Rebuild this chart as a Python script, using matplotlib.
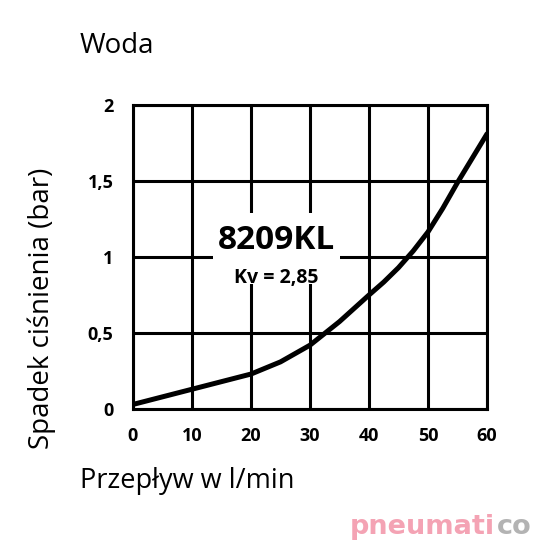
import matplotlib
matplotlib.use("Agg")
import matplotlib.pyplot as plt
from matplotlib.patches import Rectangle

flow = [0, 5, 10, 15, 20, 25, 30, 35, 40, 42.5, 45, 47.5, 50, 52.5, 55, 60]
dp = [0.03, 0.08, 0.13, 0.18, 0.23, 0.31, 0.42, 0.575, 0.75, 0.835, 0.93, 1.04, 1.165, 1.32, 1.49, 1.81]
xticks = [0, 10, 20, 30, 40, 50, 60]
yticks = [0, 0.5, 1, 1.5, 2]
ylabels = ["0", "0,5", "1", "1,5", "2"]

plt.rcParams['font.family'] = ['Open Sans', 'DejaVu Sans']

fig = plt.figure(figsize=(5.4, 5.4), dpi=100)
ax = fig.add_axes([133/540, 1-409/540, 354/540, 304/540])
ax.set_xlim(0, 60)
ax.set_ylim(0, 2)
ax.set_xticks(xticks)
ax.set_yticks(yticks)
ax.set_xticklabels([str(t) for t in xticks], fontweight='bold', fontsize=13)
ax.set_yticklabels(ylabels, fontweight='bold', fontsize=13)
ax.tick_params(axis='x', length=0, pad=13)
ax.tick_params(axis='y', length=0, pad=14)
ax.grid(True, color='black', lw=2.2)
for s in ax.spines.values():
    s.set_linewidth(2.2)
ax.set_axisbelow(True)

ax.add_patch(Rectangle((13.6, 0.82), 21.5, 0.47, facecolor='white', edgecolor='none', zorder=2))
ax.plot(flow, dp, color='black', lw=3.6, solid_capstyle='round', solid_joinstyle='round', zorder=3)

ax.text(24.4, 1.11, "8209KL", fontsize=24, fontweight='bold', ha='center', va='center', zorder=4)
ax.text(24.3, 0.86, "Kv = 2,85", fontsize=14, fontweight='bold', ha='center', va='center', zorder=4)

fig.text(80/540, 1-46/540, "Woda", fontsize=20, ha='left', va='center')
fig.text(80/540, 1-481/540, "Przepływ w l/min", fontsize=19.5, ha='left', va='center')
fig.text(42/540, 1-308/540, "Spadek ciśnienia (bar)", fontsize=20, rotation=90, ha='center', va='center')

fig.text(350/540, 6/540, "pneumati", fontsize=19.5, fontweight='bold', color='#f4a3b4',
         family='DejaVu Sans', ha='left', va='baseline')
fig.text(497/540, 6/540, "co", fontsize=19.5, fontweight='bold', color='#b3b3b3',
         family='DejaVu Sans', ha='left', va='baseline')

fig.savefig("out.png", dpi=100)
